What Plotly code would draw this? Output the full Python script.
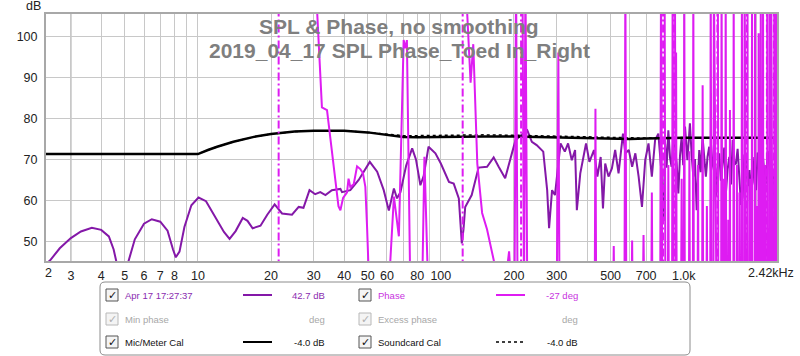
import math
import plotly.graph_objects as go

# ---------------- data ----------------
SPL_FREQ = [2.37, 2.46, 2.7, 3.0, 3.3, 3.66, 4.0, 4.3, 4.5, 4.7, 5.0, 5.18, 5.5, 6.0, 6.46, 7.0, 7.5, 7.9, 8.11, 8.4,
            8.8, 9.4, 10.06, 10.8, 11.8, 12.8, 13.5, 14.3, 15.3, 16.0, 16.8, 18.1, 19.3, 20.7, 22.2, 24.4, 26.0, 27.2,
            28.8, 30.4, 31.9, 33.5, 35.6, 38.6, 39.2, 42.4, 45.9, 51.0, 54.7, 58.2, 61.1, 64.1, 66.0, 68.2, 72.0, 76.2,
            79.0, 82.4, 85.0, 89.0, 95.0, 100, 108, 113, 118.6, 122, 124, 126, 134, 143, 155, 165, 173, 184, 197, 203,
            215, 227, 237, 248, 264, 274, 279, 287, 295, 311, 324, 334, 346, 357, 363, 375, 396, 409, 427, 441, 455,
            465, 475, 490, 506, 522, 539, 562, 575, 594, 613, 632, 652, 673, 694, 716, 739, 750, 762, 786, 800, 812,
            826, 838, 850, 864, 878, 891, 905, 920, 935, 950, 965, 980, 995, 1012, 1035, 1047, 1060, 1078, 1095, 1112,
            1130, 1158, 1175, 1195, 1213, 1233, 1253, 1273, 1294, 1314, 1335, 1356, 1378, 1400, 1422, 1445, 1468,
            1491, 1515, 1540, 1565, 1590, 1615, 1640, 1666, 1693, 1720, 1748, 1776, 1804, 1833, 1862, 1880, 1900,
            1922, 1952, 1984, 2015, 2048, 2080, 2113, 2147, 2181, 2216, 2252, 2290, 2324, 2360, 2399, 2420]
SPL_DB = [44.5, 45.3, 48.3, 50.8, 52.4, 53.3, 52.8, 51.2, 48.0, 43.0, 42.0, 45.2, 50.5, 54.3, 55.4, 54.8, 52.6, 48.0,
          46.1, 47.5, 53.5, 58.8, 60.7, 59.8, 56.0, 52.3, 50.6, 52.5, 55.7, 55.0, 53.2, 53.8, 56.5, 59.0, 56.8, 56.5,
          58.4, 58.2, 62.5, 61.5, 62.0, 61.3, 62.5, 62.8, 62.0, 62.5, 65.0, 69.4, 67.0, 62.5, 57.5, 62.9, 60.5, 62.0,
          68.5, 72.7, 70.0, 63.7, 66.0, 73.1, 71.5, 69.0, 64.5, 64.1, 60.5, 49.5, 53.0, 58.4, 61.3, 68.0, 68.2, 70.5,
          68.2, 65.4, 71.9, 74.7, 76.0, 77.1, 74.3, 73.5, 71.9, 62.5, 53.2, 62.5, 61.3, 73.9, 71.9, 73.9, 69.8, 72.3,
          57.6, 66.6, 73.9, 69.4, 72.3, 65.8, 70.6, 58.0, 69.0, 65.8, 67.8, 72.3, 66.6, 76.3, 71.5, 72.3, 68.2, 71.5,
          65.8, 58.4, 69.8, 73.9, 65.8, 70.2, 74.7, 76.3, 70.5, 65.8, 55.0, 73.9, 68.0, 77.1, 70.4, 68.2, 74.8, 73.1,
          69.0, 61.7, 70.9, 75.5, 68.6, 78.0, 69.8, 74.2, 78.8, 71.0, 65.8, 70.1, 57.6, 72.3, 66.9, 75.5, 70.3, 65.8,
          70.7, 73.1, 67.2, 69.0, 74.4, 60.9, 68.3, 71.5, 64.8, 69.8, 72.9, 61.7, 67.5, 70.6, 63.9, 74.7, 68.8, 69.0,
          72.6, 65.8, 58.9, 60.9, 71.2, 69.8, 63.5, 67.4, 51.5, 66.0, 70.6, 64.4, 62.5, 71.7, 68.2, 63.0, 71.5, 66.4,
          64.1, 72.0, 68.2, 55.0, 60.9, 67.0, 69.8, 66.0]

PHASE_FREQ = [2.37, 10, 21.4, 21.6, 27, 30.9, 32.4, 34.0, 37.9, 38.6, 39.6, 41.1, 41.7, 42.4, 43.8, 45.2, 46.6, 47.8,
              48.9, 49.7, 50.5, 55, 61.5, 64.1, 65.5, 67.2, 70.3, 71.5, 72.5, 75, 80, 84, 85.6, 89, 100, 122.8, 123.2,
              126, 132.6, 136, 141.3, 147.9, 155, 159.7, 165, 175, 186, 191, 195, 201, 204, 207, 212, 216, 220, 223,
              227, 280, 300, 304.6, 308, 400, 430, 433, 436,
              512, 515, 518, 570, 575, 580, 610, 613, 616, 678, 683, 688, 735, 739, 743,
              800, 806, 812, 819, 825, 834, 840, 860, 864, 868, 895, 900, 905, 909, 914, 920, 926, 930, 935,
              975, 980, 985, 1000, 1005, 1010, 1050, 1055, 1060, 1090, 1095, 1100, 1140, 1145, 1150,
              1190, 1196, 1202, 1240, 1245, 1250, 1285, 1291, 1300, 1325, 1330, 1338, 1372, 1380, 1388,
              1425, 1431, 1440, 1460, 1465, 1470, 1482, 1488, 1495, 1520, 1525, 1530, 1545, 1549, 1553,
              1600, 1605, 1612, 1650, 1655, 1660, 1690, 1695, 1700, 1730, 1735, 1742, 1775, 1780, 1786,
              1814, 1822, 1830, 1836, 1870, 1875, 1880, 1905, 1910, 1915, 1960, 1966, 1972, 2000, 2005, 2010,
              2028, 2033, 2038, 2070, 2075, 2082, 2115, 2120, 2126, 2160, 2165, 2170, 2195, 2203, 2210,
              2250, 2255, 2262, 2285, 2290, 2296, 2320, 2325, 2330, 2345, 2355, 2362, 2395, 2400, 2410, 2420]
PHASE_DEG = [-130, -150, -178, 178, 150, 95, 22, 20, -50, -53, -44, -40, -30, -36, -34, -21, -23, -26,
             -36, -65, -100, -140, -100, -43, -58, -72, 71, 65, 71, -120, -140, -100, -14, -120, -150, -178, 178,
             120, 40, 68, -19, -55, -67, -77, -89, -110, -100, -83, -110, -120, 120, -120, -178, 178, -120, 120,
             -120, -130, -120, 62, -120, -130, -120, 21, -120,
             -120, -79, -120, -120, 120, -120, -120, -75, -120, -120, -71, -120, -120, -40, -120,
             -120, 120, -120, -178, 178, 120, -120, -120, -20, -120, -120, 120, -120, -178, 178, 120, -120, 62, -120,
             -120, -30, -120, -120, 120, -120, -120, -10, -120, -120, 120, -120, -120, -20, -120,
             -120, 38, -120, -120, -50, -120, -120, 120, -120, -120, 120, -120, -178, 178, -120,
             -120, 120, -120, -120, -30, -120, -120, 120, -120, -120, -60, -120, -120, 20, -120,
             -120, 120, -120, -120, -20, -120, -120, -40, -120, -120, 120, -120, -120, 120, -120,
             -178, 178, 120, -120, -120, -30, -120, -120, 120, -120, -120, 120, -120, -120, -50, -120,
             -120, 76, -120, -120, 120, -120, -120, 120, -120, -120, -20, -120, -178, 178, -120,
             -120, 120, -120, -120, 120, -120, -120, -30, -120, -178, 178, -120, -120, 120, -120, -120]

CAL_FREQ = [2.37, 10, 11, 12, 14, 17, 20, 25, 30, 40, 50, 60, 70, 80, 100, 150, 200, 300, 400, 500, 600, 700, 1000,
            1500, 2420]
MIC_CAL_DB = [71.3, 71.3, 72.3, 73.1, 74.3, 75.5, 76.2, 76.8, 77.0, 77.0, 76.6, 76.0, 75.5, 75.4, 75.5, 75.6, 75.6,
              75.4, 75.2, 75.0, 75.0, 75.1, 75.3, 75.3, 75.3]
SOUNDCARD_CAL_DB = [71.3, 71.3, 72.3, 73.1, 74.3, 75.5, 76.2, 76.8, 77.0, 77.0, 76.6, 76.1, 75.8, 75.8, 75.9, 76.0,
                    75.9, 75.7, 75.5, 75.3, 75.2, 75.2, 75.3, 75.3, 75.3]

GRID_FREQS = [3, 4, 5, 6, 7, 8, 9, 10, 20, 30, 40, 50, 60, 70, 80, 90, 100, 200, 300, 400, 500, 600, 700, 800, 900,
              1000, 2000]
LABELED = {3: "3", 4: "4", 5: "5", 6: "6", 7: "7", 8: "8", 10: "10", 20: "20", 30: "30", 40: "40", 50: "50",
           60: "60", 80: "80", 100: "100", 200: "200", 300: "300", 500: "500", 700: "700", 1000: "1.0k"}
DECADES = [10, 100, 1000]
Y_TICKS = [50, 60, 70, 80, 90, 100]
F_MIN, F_MAX = 2.37, 2420
DB_MIN, DB_MAX = 45.2, 105.5

# ---------------- style ----------------
SPL_COLOR = "#8418A8"
PHASE_COLOR = "#DE1CF2"
FONT = "Liberation Sans, Arial, sans-serif"
W, H = 800, 356
L, R, T, B = 46, 777, 14, 261


def px(x):
    return (x - L) / (R - L)


def py(y):
    return (B - y) / (B - T)


# phase: split at wraps, draw wraps dashed
ph_x, ph_y, wr_x, wr_y = [], [], [], []
for i, (f, p) in enumerate(zip(PHASE_FREQ, PHASE_DEG)):
    if i > 0 and abs(p - PHASE_DEG[i - 1]) > 300:
        fm = math.sqrt(f * PHASE_FREQ[i - 1])
        ph_x.append(None)
        ph_y.append(None)
        wr_x += [fm, fm, None]
        wr_y += [-180, 180, None]
    ph_x.append(f)
    ph_y.append(p)

fig = go.Figure()
fig.add_trace(go.Scatter(x=wr_x, y=wr_y, yaxis="y2", mode="lines",
                         line=dict(color=PHASE_COLOR, width=2, dash="8px,3px,2px,3px"), hoverinfo="skip"))
fig.add_trace(go.Scatter(x=ph_x, y=ph_y, yaxis="y2", mode="lines",
                         line=dict(color=PHASE_COLOR, width=2), connectgaps=False))
fig.add_trace(go.Scatter(x=SPL_FREQ, y=SPL_DB, mode="lines", line=dict(color=SPL_COLOR, width=2)))
fig.add_trace(go.Scatter(x=CAL_FREQ, y=SOUNDCARD_CAL_DB, mode="lines",
                         line=dict(color="#000000", width=1.5, dash="dot")))
fig.add_trace(go.Scatter(x=CAL_FREQ, y=MIC_CAL_DB, mode="lines", line=dict(color="#000000", width=2.5)))

shapes = []
for d in DECADES:
    shapes.append(dict(type="line", xref="x", yref="paper", x0=math.log10(d), x1=math.log10(d), y0=0, y1=1,
                       line=dict(color="#8a8a8a", width=1), layer="below"))


def rrect(x0, y0, x1, y1, r):
    a, b, c, d = px(x0), px(x1), py(y0), py(y1)
    rx = r / (R - L)
    ry = r / (B - T)
    return (f"M{a + rx},{c} L{b - rx},{c} Q{b},{c} {b},{c - ry} L{b},{d + ry} Q{b},{d} {b - rx},{d} "
            f"L{a + rx},{d} Q{a},{d} {a},{d + ry} L{a},{c - ry} Q{a},{c} {a + rx},{c} Z")


shapes.append(dict(type="path", xref="paper", yref="paper", path=rrect(100, 282, 690, 355, 5),
                   line=dict(color="#8c8c8c", width=1), fillcolor="rgba(0,0,0,0)"))

annotations = [
    dict(text="<b>SPL & Phase, no smoothing</b>", x=px(399), y=py(26.5), xref="paper", yref="paper",
         showarrow=False, font=dict(family=FONT, size=21, color="#7f7f7f"), xanchor="center", yanchor="middle"),
    dict(text="<b>2019_04_17 SPL Phase_Toed In_Right</b>", x=px(399), y=py(50), xref="paper", yref="paper",
         showarrow=False, font=dict(family=FONT, size=21, color="#7f7f7f"), xanchor="center", yanchor="middle"),
    dict(text="dB", x=px(33), y=py(6), xref="paper", yref="paper", showarrow=False,
         font=dict(family=FONT, size=12.5, color="#222"), xanchor="center", yanchor="middle"),
    dict(text="2", x=px(48), y=py(273), xref="paper", yref="paper", showarrow=False,
         font=dict(family=FONT, size=12.5, color="#222"), xanchor="center", yanchor="middle"),
    dict(text="2.42kHz", x=px(770.5), y=py(273), xref="paper", yref="paper", showarrow=False,
         font=dict(family=FONT, size=12.5, color="#222"), xanchor="center", yanchor="middle"),
]

LEG = [
    (106, 295, "Apr 17 17:27:37", "#8a2cb0", dict(color=SPL_COLOR, width=2), "42.7 dB", True),
    (359, 295, "Phase", "#c832e0", dict(color=PHASE_COLOR, width=2), "-27 deg", True),
    (106, 319, "Min phase", "#a8a8a8", None, "deg", False),
    (359, 319, "Excess phase", "#a8a8a8", None, "deg", False),
    (106, 342, "Mic/Meter Cal", "#111111", dict(color="#000", width=2), "-4.0 dB", True),
    (359, 342, "Soundcard Cal", "#111111", dict(color="#000", width=1.5, dash="dot"), "-4.0 dB", True),
]
for cx, cy, txt, col, sample, val, enabled in LEG:
    bc = "#555555" if enabled else "#b8b8b8"
    shapes.append(dict(type="rect", xref="paper", yref="paper", x0=px(cx), x1=px(cx + 12), y0=py(cy - 6),
                       y1=py(cy + 6), line=dict(color=bc, width=1), fillcolor="#f4f4f4"))
    annotations.append(dict(text="✓", x=px(cx + 6), y=py(cy), xref="paper", yref="paper", showarrow=False,
                            font=dict(family="DejaVu Sans", size=11, color="#111" if enabled else "#b0b0b0"),
                            xanchor="center", yanchor="middle"))
    annotations.append(dict(text=txt, x=px(cx + 17), y=py(cy), xref="paper", yref="paper", showarrow=False,
                            font=dict(family=FONT, size=9.5, color=col), xanchor="left", yanchor="middle"))
    annotations.append(dict(text=val, x=px(cx + 221), y=py(cy), xref="paper", yref="paper", showarrow=False,
                            font=dict(family=FONT, size=9.5, color=col), xanchor="right", yanchor="middle"))
    if sample:
        shapes.append(dict(type="line", xref="paper", yref="paper", x0=px(cx + 137), x1=px(cx + 166),
                           y0=py(cy), y1=py(cy), line=sample))

fig.update_layout(
    width=W, height=H,
    margin=dict(l=L, r=W - R, t=T, b=H - B),
    paper_bgcolor="white", plot_bgcolor="white",
    showlegend=False,
    xaxis=dict(type="log", range=[math.log10(F_MIN), math.log10(F_MAX)],
               tickmode="array", tickvals=GRID_FREQS, ticktext=[LABELED.get(v, "") for v in GRID_FREQS],
               showgrid=True, gridcolor="#c8c8c8", gridwidth=1, ticks="", ticklabelstandoff=2,
               tickfont=dict(family=FONT, size=12.5, color="#222"),
               showline=True, mirror=True, linecolor="#a8a8a8", linewidth=2, zeroline=False),
    yaxis=dict(range=[DB_MIN, DB_MAX], tickmode="array", tickvals=Y_TICKS,
               showgrid=True, gridcolor="#c8c8c8", gridwidth=1, ticks="", ticklabelstandoff=4,
               tickfont=dict(family=FONT, size=12.5, color="#222"),
               showline=True, mirror=True, linecolor="#a8a8a8", linewidth=2, zeroline=False),
    yaxis2=dict(range=[-90, 90], overlaying="y", visible=False),
    shapes=shapes,
    annotations=annotations,
)

fig.write_html("out.html", config={"displayModeBar": False},
               post_script="document.body.style.margin='0px';")
